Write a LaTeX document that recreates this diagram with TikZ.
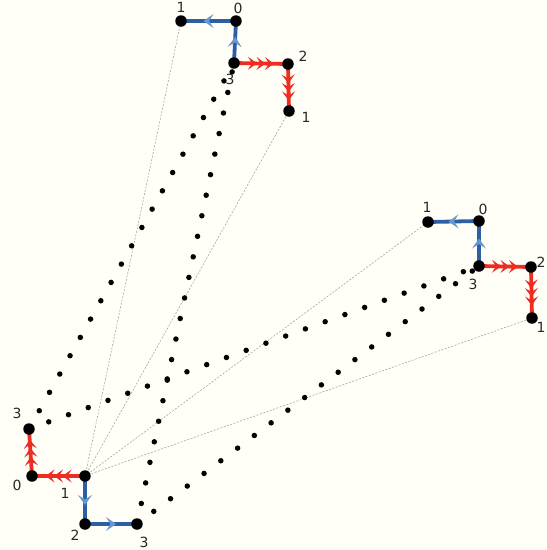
\documentclass[tikz,border=0pt]{standalone}
\usepackage{fontspec}
\setmainfont{DejaVu Sans}
\usetikzlibrary{arrows.meta,decorations.markings}
\definecolor{bgc}{RGB}{255,255,247}
\definecolor{redc}{RGB}{236,45,35}
\definecolor{bluec}{RGB}{45,95,165}
\definecolor{bluearr}{RGB}{105,150,205}
\definecolor{labc}{RGB}{40,40,40}
\pgfdeclarelayer{back}
\pgfdeclarelayer{mid}
\pgfsetlayers{back,mid,main}
\tikzset{
  pt/.style={circle,fill=black,inner sep=0pt,minimum size=11.5pt},
  lab/.style={text=labc,inner sep=0pt,font=\fontsize{14}{16}\selectfont},
  thinlink/.style={draw={rgb,255:red,165;green,165;blue,165},line width=0.6pt,dash pattern=on 2pt off 1.5pt},
  dotlink/.style={draw=black,line width=5.5pt,line cap=round,dash pattern=on 0pt off 21pt},
  blueedge/.style={draw=bluec,line width=3.8pt,postaction={decorate},
    decoration={markings,mark=at position 0.5 with {\arrow[bluearr,xshift=5pt]{Stealth[length=10pt,width=14pt,inset=4.5pt]}}}},
  rededge/.style={draw=redc,line width=3.8pt,postaction={decorate},
    decoration={markings,mark=at position 0.5 with {%
      \arrow[redc,xshift=-4pt]{Stealth[length=9pt,width=13pt,inset=4pt]}%
      \arrow[redc,xshift=4.5pt]{Stealth[length=9pt,width=13pt,inset=4pt]}%
      \arrow[redc,xshift=13pt]{Stealth[length=9pt,width=13pt,inset=4pt]}}}}
}
\begin{document}
\begin{tikzpicture}[x=1pt,y=-1pt]
\begin{pgfonlayer}{back}
\fill[bgc] (0,0) rectangle (547,550);
\end{pgfonlayer}
\useasboundingbox (0,0) rectangle (547,550);
% top group
\node[pt] (t1) at (181,21) {};
\node[pt] (t0) at (236,21) {};
\node[pt] (t3) at (234,63) {};
\node[pt] (t2) at (288,64) {};
\node[pt] (t1b) at (289,111) {};
% right group
\node[pt] (r1) at (428,222) {};
\node[pt] (r0) at (479,221) {};
\node[pt] (r3) at (479,266) {};
\node[pt] (r2) at (531,267) {};
\node[pt] (r1b) at (532,318) {};
% bottom group
\node[pt] (b3) at (29,429) {};
\node[pt] (b0) at (32,476) {};
\node[pt] (b1) at (85,476) {};
\node[pt] (b2) at (85,524) {};
\node[pt] (b3b) at (137,524) {};
% links
\begin{pgfonlayer}{back}
\draw[thinlink] (b1.center) -- (t1.center);
\draw[thinlink] (b1.center) -- (t1b.center);
\draw[thinlink] (b1.center) -- (r1.center);
\draw[thinlink] (b1.center) -- (r1b.center);
\draw[dotlink] (b3.center) -- (t3.center);
\draw[dotlink] (b3.center) -- (r3.center);
\draw[dotlink] (b3b.center) -- (t3.center);
\draw[dotlink] (b3b.center) -- (r3.center);
\end{pgfonlayer}
\begin{pgfonlayer}{mid}
\draw[blueedge] (t0.center) -- (t1.center);
\draw[blueedge] (t3.center) -- (t0.center);
\draw[rededge] (t3.center) -- (t2.center);
\draw[rededge] (t2.center) -- (t1b.center);
\draw[blueedge] (r0.center) -- (r1.center);
\draw[blueedge] (r3.center) -- (r0.center);
\draw[rededge] (r3.center) -- (r2.center);
\draw[rededge] (r2.center) -- (r1b.center);
\draw[rededge] (b1.center) -- (b0.center);
\draw[rededge] (b0.center) -- (b3.center);
\draw[blueedge] (b1.center) -- (b2.center);
\draw[blueedge] (b2.center) -- (b3b.center);
\end{pgfonlayer}
% labels
\node[lab] (lt1) at (181,7) {1};
\node[lab] (lt0) at (238,8) {0};
\node[lab] (lt2) at (303,56) {2};
\node[lab] (lt1b) at (306,117) {1};
\node[lab] (lt3) at (230,79) {3};
\node[lab] (lr1) at (427,207) {1};
\node[lab] (lr0) at (483,209) {0};
\node[lab] (lr2) at (541,262) {2};
\node[lab] (lr1b) at (541,327) {1};
\node[lab] (lr3) at (473,284) {3};
\node[lab] (lb3) at (17,413) {3};
\node[lab] (lb0) at (17,485) {0};
\node[lab] (lb1) at (65,493) {1};
\node[lab] (lb2) at (75,535) {2};
\node[lab] (lb3b) at (144,542) {3};
\end{tikzpicture}
\end{document}
